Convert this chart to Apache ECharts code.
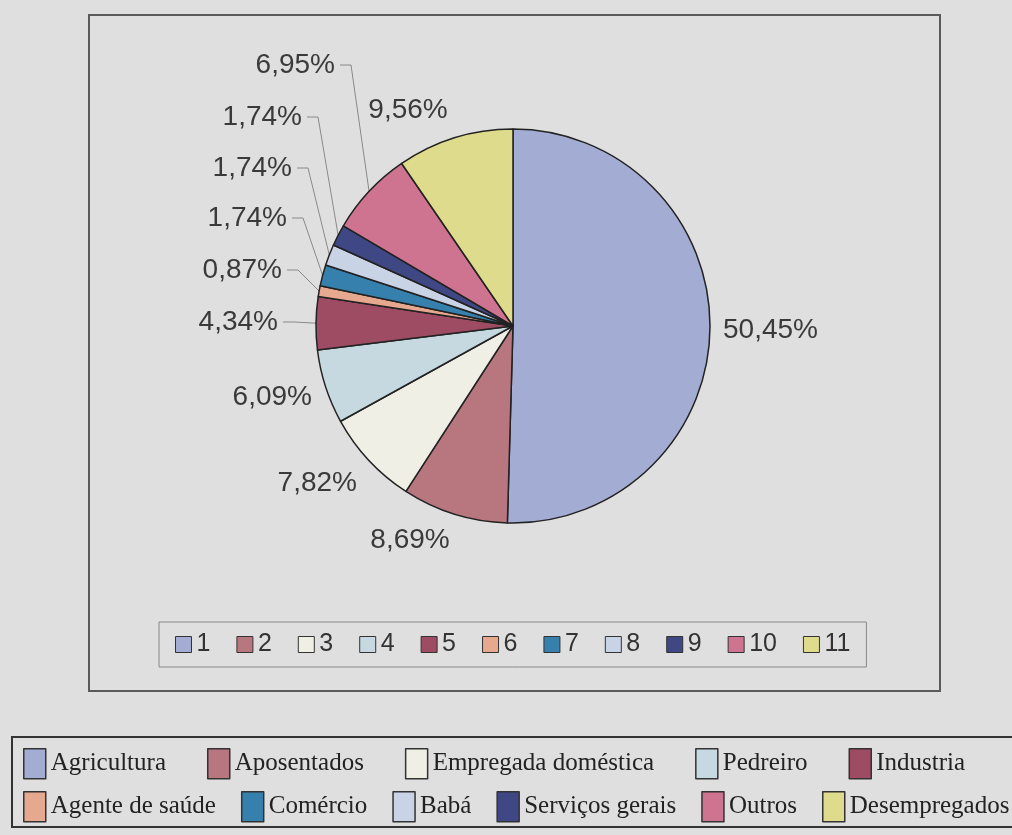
<!DOCTYPE html>
<html>
<head>
<meta charset="utf-8">
<script src="https://cdn.jsdelivr.net/npm/echarts@6/dist/echarts.min.js"></script>
<style>
  html, body { margin: 0; padding: 0; background: #dfdfdf; }
  #chart { width: 1012px; height: 835px; }
</style>
</head>
<body>
<div id="chart"></div>
<script>
// dados (percentagens)
const codes = ['1', '2', '3', '4', '5', '6', '7', '8', '9', '10', '11']
const occupations = ['Agricultura', 'Aposentados', 'Empregada doméstica', 'Pedreiro', 'Industria',
  'Agente de saúde', 'Comércio', 'Babá', 'Serviços gerais', 'Outros', 'Desempregados']
const percents = [50.45, 8.69, 7.82, 6.09, 4.34, 0.87, 1.74, 1.74, 1.74, 6.95, 9.56]
const colors = ['#a3acd3', '#b8767f', '#efefe6', '#c6d9e0', '#9e4b64', '#e6a88e',
  '#3580ad', '#c9d3e6', '#3f4885', '#cf7490', '#dedb8c']

// posicao dos rotulos (estilo Excel) e quais tem linha guia
const labelPos = [
  { x: 723, y: 330, align: 'left' },
  { x: 410, y: 540, align: 'center' },
  { x: 357, y: 483, align: 'right' },
  { x: 312, y: 397, align: 'right' },
  { x: 278, y: 322, align: 'right' },
  { x: 282, y: 270, align: 'right' },
  { x: 287, y: 218, align: 'right' },
  { x: 292, y: 168, align: 'right' },
  { x: 302, y: 117, align: 'right' },
  { x: 335, y: 65, align: 'right' },
  { x: 408, y: 110, align: 'center' }
]
const withLine = [false, false, false, false, true, true, true, true, true, true, false]

const fmt = (v) => v.toFixed(2).replace('.', ',') + '%'

const chart = echarts.init(document.getElementById('chart'))

const mainData = codes.map((c, i) => ({
  name: c,
  value: percents[i],
  itemStyle: { color: colors[i] },
  labelLine: { show: withLine[i] }
}))
const occData = occupations.map((n, i) => ({
  name: n,
  value: percents[i],
  itemStyle: { color: colors[i] }
}))

const option = {
  backgroundColor: '#dfdfdf',
  animation: false,
  graphic: [
    {
      type: 'rect',
      shape: { x: 89, y: 15, width: 851, height: 676 },
      style: { fill: 'none', stroke: '#5a5a5a', lineWidth: 2 },
      z: -1
    },
    {
      type: 'rect',
      shape: { x: 12, y: 737, width: 1010, height: 90 },
      style: { fill: 'none', stroke: '#333', lineWidth: 2 },
      z: -1
    }
  ],
  legend: [
    {
      data: codes,
      left: 159,
      top: 622,
      padding: [10, 16],
      itemGap: 26,
      itemWidth: 16,
      itemHeight: 16,
      icon: 'rect',
      borderColor: '#888',
      borderWidth: 1,
      itemStyle: { borderColor: '#333', borderWidth: 1 },
      textStyle: { fontFamily: 'Liberation Sans', fontSize: 25, color: '#333' },
      selectedMode: false
    },
    {
      data: occupations.slice(0, 5),
      left: 23,
      top: 748,
      padding: 0,
      itemGap: 41,
      itemWidth: 22,
      itemHeight: 30,
      icon: 'rect',
      itemStyle: { borderColor: '#333', borderWidth: 1.5 },
      textStyle: { fontFamily: 'Liberation Serif', fontSize: 25, color: '#222' },
      selectedMode: false
    },
    {
      data: occupations.slice(5),
      left: 23,
      top: 791,
      padding: 0,
      itemGap: 25,
      itemWidth: 22,
      itemHeight: 30,
      icon: 'rect',
      itemStyle: { borderColor: '#333', borderWidth: 1.5 },
      textStyle: { fontFamily: 'Liberation Serif', fontSize: 25, color: '#222' },
      selectedMode: false
    }
  ],
  series: [
    {
      type: 'pie',
      center: [513, 326],
      radius: 197,
      startAngle: 90,
      clockwise: true,
      avoidLabelOverlap: false,
      silent: true,
      data: mainData,
      itemStyle: { borderColor: '#222', borderWidth: 1.5 },
      label: {
        show: true,
        position: 'outside',
        formatter: (p) => fmt(p.value),
        fontFamily: 'Liberation Sans',
        fontSize: 28,
        color: '#3a3a3a'
      },
      labelLine: {
        length: 10,
        length2: 10,
        lineStyle: { color: '#8a8a8a', width: 1 }
      },
      labelLayout: (params) => {
        const p = labelPos[params.dataIndex]
        const out = { x: p.x, y: p.y, align: p.align, verticalAlign: 'middle' }
        if (withLine[params.dataIndex] && params.labelLinePoints) {
          const edge = params.labelLinePoints[0]
          out.labelLinePoints = [[p.x + 5, p.y], [p.x + 16, p.y], edge]
        }
        return out
      }
    },
    {
      type: 'pie',
      center: [513, 326],
      radius: 0,
      silent: true,
      data: occData,
      itemStyle: { borderWidth: 0 },
      label: { show: false },
      labelLine: { show: false }
    }
  ]
}

chart.setOption(option)
</script>
</body>
</html>
